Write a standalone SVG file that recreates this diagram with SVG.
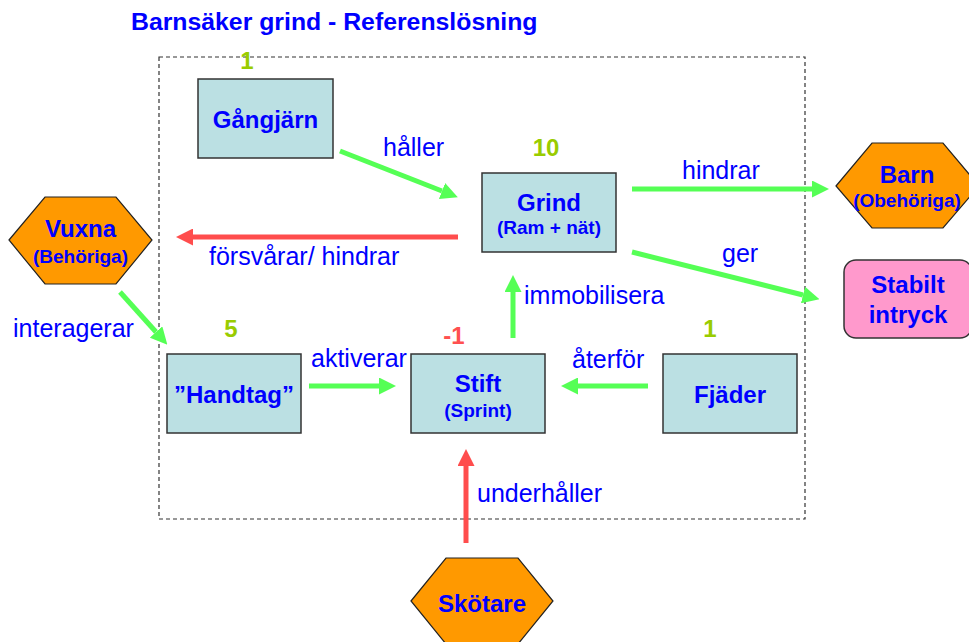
<svg xmlns="http://www.w3.org/2000/svg" width="969" height="642" viewBox="0 0 969 642">
<style>
text{font-family:"Liberation Sans",Arial,sans-serif;fill:#0000ff}
.t{font-weight:bold;font-size:24px;text-anchor:middle}
.s{font-weight:bold;font-size:19px;text-anchor:middle}
.l{font-size:25px}
.n{font-weight:bold;font-size:24px;text-anchor:middle;fill:#99cc00}
.neg{fill:#ff5050}
.box{fill:#bbe0e3;stroke:#333;stroke-width:1.5}
.hex{fill:#ff9900;stroke:#222;stroke-width:1.2}
.g{stroke:#55ff55;stroke-width:5;fill:none}
.r{stroke:#ff4d4d;stroke-width:5;fill:none}
</style>
<defs>
<marker id="ag" viewBox="0 0 10 10" refX="0" refY="5" markerWidth="3.4" markerHeight="3.4" orient="auto" markerUnits="strokeWidth"><path d="M0,0L10,5L0,10z" fill="#55ff55"/></marker>
<marker id="ar" viewBox="0 0 10 10" refX="0" refY="5" markerWidth="3.4" markerHeight="3.4" orient="auto" markerUnits="strokeWidth"><path d="M0,0L10,5L0,10z" fill="#ff4d4d"/></marker>
</defs>
<text x="131" y="30" style="font-weight:bold;font-size:24.8px">Barnsäker grind - Referenslösning</text>
<rect x="159" y="57" width="646" height="462" fill="none" stroke="#333" stroke-width="1.2" stroke-dasharray="4,3"/>
<g id="connectors">
<line class="g" x1="340" y1="151" x2="442" y2="191" marker-end="url(#ag)"/>
<line class="g" x1="632" y1="189" x2="812" y2="189" marker-end="url(#ag)"/>
<line class="g" x1="632" y1="252" x2="803" y2="295" marker-end="url(#ag)"/>
<line class="r" x1="458" y1="237" x2="193" y2="237" marker-end="url(#ar)"/>
<line class="g" x1="513" y1="338" x2="513" y2="292" marker-end="url(#ag)"/>
<line class="g" x1="120" y1="292" x2="156" y2="332" marker-end="url(#ag)"/>
<line class="g" x1="309" y1="386" x2="379" y2="386" marker-end="url(#ag)"/>
<line class="g" x1="648" y1="386" x2="578" y2="386" marker-end="url(#ag)"/>
<line class="r" x1="466" y1="543" x2="466" y2="466" marker-end="url(#ar)"/>
<text class="l" x="383" y="156">håller</text>
<text class="l" x="209" y="265">försvårar/ hindrar</text>
<text class="l" x="682" y="179">hindrar</text>
<text class="l" x="722" y="262">ger</text>
<text class="l" x="524" y="304">immobilisera</text>
<text class="l" x="13" y="337">interagerar</text>
<text class="l" x="311" y="367">aktiverar</text>
<text class="l" x="572" y="368">återför</text>
<text class="l" x="477" y="502">underhåller</text>
</g>
<g id="gangjarn">
<rect class="box" x="198" y="79" width="135" height="79"/>
<text class="t" x="265.5" y="128">Gångjärn</text>
<text class="n" x="247" y="69">1</text>
</g>
<g id="grind">
<rect class="box" x="482" y="173" width="134" height="79"/>
<text class="t" x="549" y="211">Grind</text>
<text class="s" x="549" y="234">(Ram + nät)</text>
<text class="n" x="546" y="156">10</text>
</g>
<g id="barn">
<polygon class="hex" points="836,186 872,143 943,143 979,186 943,228 872,228"/>
<text class="t" x="907" y="183">Barn</text>
<text class="s" x="907" y="207">(Obehöriga)</text>
</g>
<g id="stabilt">
<rect x="844" y="260" width="128" height="78" rx="12" fill="#ff99cc" stroke="#333" stroke-width="1.5"/>
<text class="t" x="908" y="293">Stabilt</text>
<text class="t" x="908" y="323">intryck</text>
</g>
<g id="vuxna">
<polygon class="hex" points="9,240 45,197 116,197 152,240 116,284 45,284"/>
<text class="t" x="80.5" y="237">Vuxna</text>
<text class="s" x="80.5" y="263">(Behöriga)</text>
</g>
<g id="handtag">
<rect class="box" x="167" y="354" width="134" height="79"/>
<text class="t" x="234" y="403">”Handtag”</text>
<text class="n" x="231" y="337">5</text>
</g>
<g id="stift">
<rect class="box" x="411" y="354" width="134" height="79"/>
<text class="t" x="478" y="392">Stift</text>
<text class="s" x="478" y="417">(Sprint)</text>
<text class="n neg" x="454" y="344">-1</text>
</g>
<g id="fjader">
<rect class="box" x="663" y="354" width="134" height="79"/>
<text class="t" x="730" y="403">Fjäder</text>
<text class="n" x="710" y="337">1</text>
</g>
<g id="skotare">
<polygon class="hex" points="411,601 446,558 518,558 553,601 518,644 446,644"/>
<text class="t" x="482" y="612">Skötare</text>
</g>
</svg>
